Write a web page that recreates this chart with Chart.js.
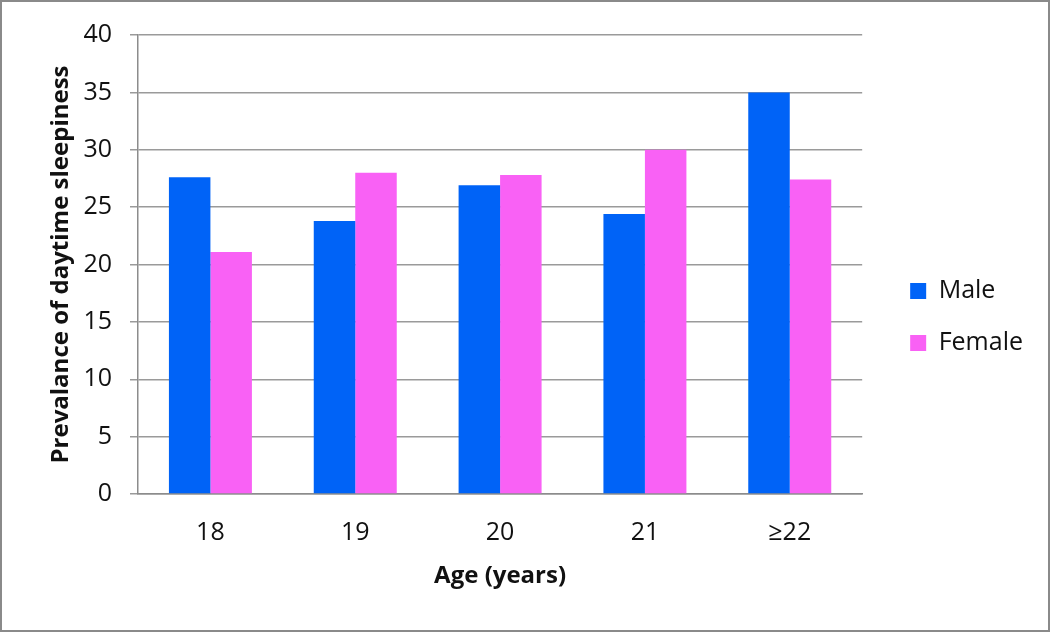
<!DOCTYPE html>
<html>
<head>
<meta charset="utf-8">
<script src="https://cdn.jsdelivr.net/npm/chart.js@4.4.1/dist/chart.umd.min.js"></script>
<style>
  body { margin: 0; background: #fff; }
  .frame { width: 1050px; height: 632px; box-sizing: border-box; border: 2px solid #8a8a8a; background: #fff; }
  canvas { display: block; }
</style>
</head>
<body>
<div class="frame"><canvas id="chart" width="1046" height="628"></canvas></div>
<script>
const ages = ['18', '19', '20', '21', '≥22'];
const male = [27.6, 23.8, 26.9, 24.4, 35.0];
const female = [21.1, 28.0, 27.8, 30.0, 27.4];
const yTicks = [0, 5, 10, 15, 20, 25, 30, 35, 40];

const font = 'Open Sans';

// move the legend a bit away from the plot and up, like the original
const legendShift = {
  id: 'legendShift',
  afterLayout(chart) {
    const lg = chart.legend;
    const w = lg.width;
    lg.left = chart.chartArea.right + 21;
    lg.right = lg.left + w;
    lg.top -= 12;
    lg.bottom -= 12;
  }
};

const chartData = {
  labels: ages,
  datasets: [
    { label: 'Male', data: male, backgroundColor: '#0063F7', borderWidth: 0 },
    { label: 'Female', data: female, backgroundColor: '#F961F5', borderWidth: 0 }
  ]
};

const config = {
  type: 'bar',
  data: chartData,
  plugins: [legendShift],
  options: {
    responsive: false,
    animation: false,
    devicePixelRatio: 1,
    layout: { padding: { top: 32, bottom: 6, left: 0, right: 36 } },
    datasets: { bar: { barPercentage: 1.0, categoryPercentage: 0.573 } },
    plugins: {
      tooltip: { enabled: false },
      legend: {
        position: 'right',
        labels: {
          boxWidth: 16,
          boxHeight: 16,
          padding: 27,
          color: '#111',
          font: { family: font, size: 25 }
        }
      }
    },
    scales: {
      x: {
        grid: { display: false, drawTicks: false },
        border: { display: true, color: '#8c8c8c', width: 1.5 },
        ticks: { color: '#111', padding: 24, font: { family: font, size: 25 } },
        title: {
          display: true,
          text: 'Age (years)',
          color: '#111',
          padding: { top: 0, bottom: 33 },
          font: { family: font, size: 24, weight: 'bold' }
        },
        afterFit(scale) { scale.height = 130; }
      },
      y: {
        min: 0,
        max: 40,
        afterBuildTicks(scale) { scale.ticks = yTicks.map(v => ({ value: v })); },
        grid: { color: '#9a9a9a', lineWidth: 1.5, drawTicks: true, tickLength: 8 },
        border: { display: true, color: '#8c8c8c', width: 1.5 },
        ticks: { color: '#111', padding: 18, font: { family: font, size: 25 } },
        title: {
          display: true,
          text: 'Prevalance of daytime sleepiness',
          color: '#111',
          padding: { top: 45, bottom: 0 },
          font: { family: font, size: 24, weight: 'bold' }
        },
        afterFit(scale) { scale.width = 136; }
      }
    }
  }
};

new Chart(document.getElementById('chart'), config);
</script>
</body>
</html>
